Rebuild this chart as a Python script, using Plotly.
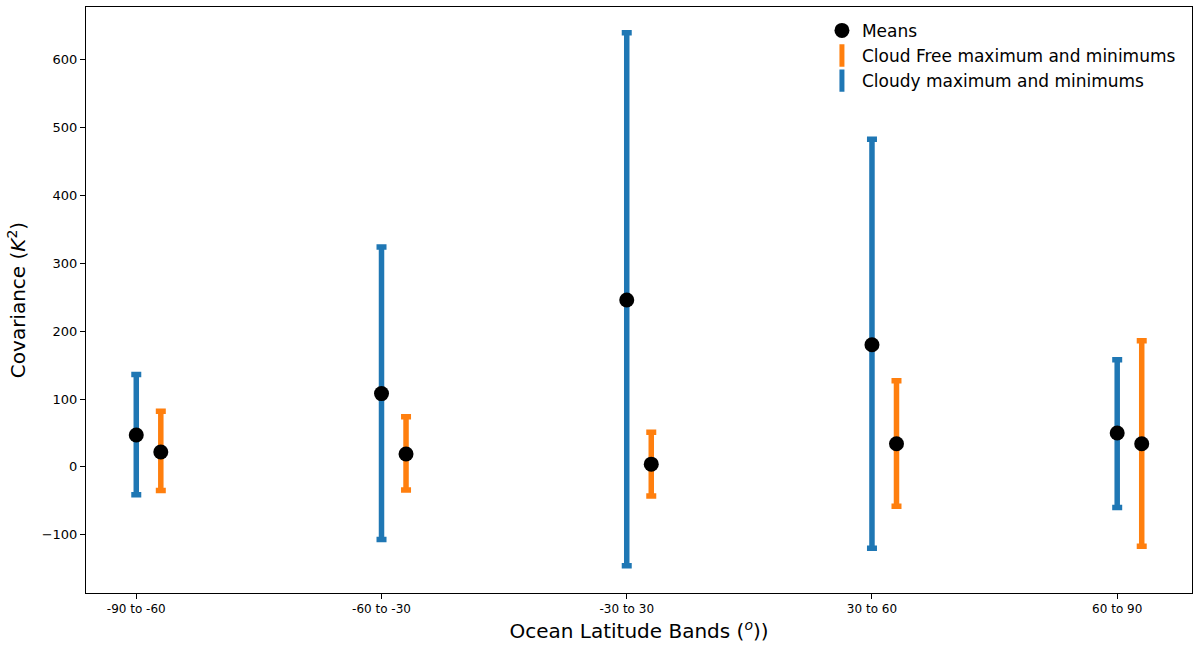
import plotly.graph_objects as go

bands = ["-90 to -60", "-60 to -30", "-30 to 30", "30 to 60", "60 to 90"]
cloudy_mean = [47, 108, 246, 180, 50]
cloudy_max = [136, 324, 640, 483, 158]
cloudy_min = [-41, -107, -146, -120, -60]
clear_mean = [22, 19, 4, 34, 34]
clear_max = [82, 74, 51, 127, 186]
clear_min = [-35, -34, -43, -58, -117]

BLUE = "#1f77b4"
ORANGE = "#ff7f0e"

x_cloudy = list(range(len(bands)))
x_clear = [i + 0.1 for i in x_cloudy]

fig = go.Figure()

def err_trace(x, mean, mx, mn, color):
    return go.Scatter(
        x=x, y=mean, mode="markers", showlegend=False, hoverinfo="skip",
        marker=dict(size=1, opacity=0),
        error_y=dict(type="data", symmetric=False,
                     array=[a - m for a, m in zip(mx, mean)],
                     arrayminus=[m - b for m, b in zip(mean, mn)],
                     color=color, thickness=5.5, width=5),
    )

fig.add_trace(err_trace(x_cloudy, cloudy_mean, cloudy_max, cloudy_min, BLUE))
fig.add_trace(err_trace(x_clear, clear_mean, clear_max, clear_min, ORANGE))

fig.add_trace(go.Scatter(
    x=x_cloudy + x_clear, y=cloudy_mean + clear_mean, mode="markers",
    name="Means", marker=dict(color="black", size=15, line=dict(width=0)),
))
# legend entries for the error bars
fig.add_trace(go.Scatter(
    x=[None], y=[None], mode="markers", name="Cloud Free maximum and minimums",
    marker=dict(symbol="line-ns-open", size=18, color=ORANGE,
                line=dict(color=ORANGE, width=6)),
))
fig.add_trace(go.Scatter(
    x=[None], y=[None], mode="markers", name="Cloudy maximum and minimums",
    marker=dict(symbol="line-ns-open", size=18, color=BLUE,
                line=dict(color=BLUE, width=6)),
))

fig.update_layout(
    width=1203, height=646,
    margin=dict(l=86, r=11, t=7, b=53),
    paper_bgcolor="white", plot_bgcolor="white",
    font=dict(family="DejaVu Sans", color="black", size=12),
    legend=dict(x=0.99, y=0.99, xanchor="right", yanchor="top",
                bgcolor="rgba(255,255,255,0.8)", borderwidth=0,
                font=dict(size=17), tracegroupgap=0),
)
fig.update_xaxes(
    range=[-0.205, 4.305], tickvals=x_cloudy, ticktext=bands,
    showgrid=False, zeroline=False, showline=True, linecolor="black", linewidth=1,
    mirror=True, ticks="outside", ticklen=5, tickcolor="black",
    tickfont=dict(size=12),
    title=dict(text="Ocean Latitude Bands (<sup><i>o</i></sup>))", standoff=8,
               font=dict(size=20)),
)
fig.update_yaxes(
    range=[-186, 678], tickvals=[-100, 0, 100, 200, 300, 400, 500, 600],
    showgrid=False, zeroline=False, showline=True, linecolor="black", linewidth=1,
    mirror=True, ticks="outside", ticklen=5, tickcolor="black",
    tickfont=dict(size=13),
    title=dict(text="Covariance (<i>K</i><sup>2</sup>)", standoff=10, font=dict(size=20)),
)

fig.write_html("out.html")
